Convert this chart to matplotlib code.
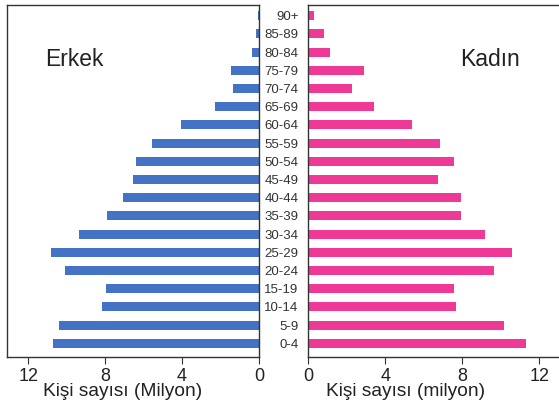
import matplotlib
matplotlib.use("Agg")
import matplotlib.pyplot as plt

plt.rcParams['font.family'] = ['Liberation Sans', 'DejaVu Sans']

age_groups = ["0-4", "5-9", "10-14", "15-19", "20-24", "25-29", "30-34", "35-39",
              "40-44", "45-49", "50-54", "55-59", "60-64", "65-69", "70-74",
              "75-79", "80-84", "85-89", "90+"]
male = [10.7, 10.42, 8.14, 7.96, 10.11, 10.8, 9.37, 7.88, 7.05, 6.53, 6.42,
        5.54, 4.03, 2.27, 1.33, 1.47, 0.38, 0.17, 0.05]
female = [11.34, 10.19, 7.68, 7.58, 9.64, 10.57, 9.21, 7.94, 7.94, 6.72, 7.55,
          6.86, 5.4, 3.44, 2.29, 2.92, 1.13, 0.82, 0.28]
xticks = [0, 4, 8, 12]

male_color = "#4472C4"
female_color = "#EE3A96"

W, H = 559, 409
fig = plt.figure(figsize=(W / 100, H / 100), dpi=100)
axL = fig.add_axes([7/W, 52/H, 252/W, 352/H])
axR = fig.add_axes([308.3/W, 52/H, 252/W, 352/H])

ypos = list(range(len(age_groups)))

axL.barh(ypos, male, height=0.5, color=male_color)
axL.set_xlim(13.1, 0)
axL.set_ylim(-0.75, 18.59)
axL.set_yticks([])
axL.set_xticks(xticks)
axL.set_xticklabels([str(t) for t in xticks])

axR.barh(ypos, female, height=0.5, color=female_color)
axR.set_xlim(0, 13.1)
axR.set_ylim(-0.75, 18.59)
axR.set_yticks(ypos)
axR.set_yticklabels(age_groups)
axR.set_xticks(xticks)
axR.set_xticklabels([str(t) for t in xticks])
axR.spines['right'].set_visible(False)

fig.text(123/W, 1 - 392/H, "Kişi sayısı (Milyon)", fontsize=13.8,
         ha="center", va="center", color="#222222")
fig.text(406/W, 1 - 392/H, "Kişi sayısı (milyon)", fontsize=13.8,
         ha="center", va="center", color="#222222")
fig.text(45/W, 1 - 60/H, "Erkek", fontsize=16.5,
         va="center", ha="left", color="#222222")
fig.text(460/W, 1 - 60/H, "Kadın", fontsize=16.5,
         va="center", ha="left", color="#222222")

for ax in (axL, axR):
    ax.tick_params(axis='x', direction='out', length=5, width=0.8,
                   labelsize=13, pad=3, colors="#333333", labelcolor="#222222")
    ax.tick_params(axis='y', length=0, labelsize=9.5, pad=7, labelcolor="#333333")
    for s in ax.spines.values():
        s.set_color("#333333")
        s.set_linewidth(1.0)

fig.savefig("out.png", dpi=100)
